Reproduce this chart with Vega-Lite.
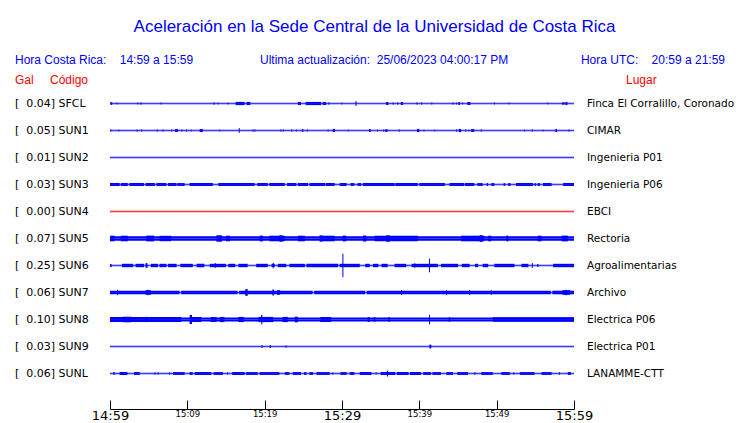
{
  "$schema": "https://vega.github.io/schema/vega-lite/v6.json",
  "padding": {"left": 15, "top": 18, "right": 5, "bottom": 0},
  "background": "white",
  "title": {"text": "Aceleración en la Sede Central de la Universidad de Costa Rica", "anchor": "middle", "frame": "bounds", "font": "Liberation Sans", "fontSize": 17, "fontWeight": "normal", "color": "#0000ff", "offset": 14},
  "config": {"view": {"stroke": null}, "axis": {"grid": false}},
  "spacing": 0,
  "datasets": {
    "estaciones": [
      {"c": "SFCL", "gal": 0.04, "lugar": "Finca El Corralillo, Coronado"},
      {"c": "SUN1", "gal": 0.05, "lugar": "CIMAR"},
      {"c": "SUN2", "gal": 0.01, "lugar": "Ingenieria P01"},
      {"c": "SUN3", "gal": 0.03, "lugar": "Ingenieria P06"},
      {"c": "SUN4", "gal": 0.00, "lugar": "EBCI"},
      {"c": "SUN5", "gal": 0.07, "lugar": "Rectoria"},
      {"c": "SUN6", "gal": 0.25, "lugar": "Agroalimentarias"},
      {"c": "SUN7", "gal": 0.06, "lugar": "Archivo"},
      {"c": "SUN8", "gal": 0.10, "lugar": "Electrica P06"},
      {"c": "SUN9", "gal": 0.03, "lugar": "Electrica P01"},
      {"c": "SUNL", "gal": 0.06, "lugar": "LANAMME-CTT"}
    ],
    "trazas": [
      {"c":"SFCL","t0":0,"t1":60,"h":0.85},
      {"c":"SFCL","t0":0.05,"t1":0.3,"h":1.3},
      {"c":"SFCL","t0":0.85,"t1":0.97,"h":1.1},
      {"c":"SFCL","t0":3.55,"t1":3.67,"h":1.1},
      {"c":"SFCL","t0":3.95,"t1":4.07,"h":1.3},
      {"c":"SFCL","t0":6.55,"t1":6.67,"h":1.1},
      {"c":"SFCL","t0":13.4,"t1":13.52,"h":1.3},
      {"c":"SFCL","t0":13.9,"t1":14.02,"h":1.1},
      {"c":"SFCL","t0":15.2,"t1":15.32,"h":1.1},
      {"c":"SFCL","t0":16.25,"t1":17.4,"h":1.6},
      {"c":"SFCL","t0":17.65,"t1":18.15,"h":1.6},
      {"c":"SFCL","t0":24.3,"t1":24.7,"h":1.6},
      {"c":"SFCL","t0":25.3,"t1":27.3,"h":1.6},
      {"c":"SFCL","t0":27.5,"t1":27.95,"h":1.5},
      {"c":"SFCL","t0":28.25,"t1":28.37,"h":1.3},
      {"c":"SFCL","t0":29.95,"t1":30.07,"h":1.1},
      {"c":"SFCL","t0":31.75,"t1":31.88,"h":2.6},
      {"c":"SFCL","t0":35.7,"t1":36.0,"h":1.5},
      {"c":"SFCL","t0":36.55,"t1":36.67,"h":1.3},
      {"c":"SFCL","t0":37.15,"t1":37.27,"h":1.3},
      {"c":"SFCL","t0":37.6,"t1":37.9,"h":1.4},
      {"c":"SFCL","t0":39.65,"t1":39.77,"h":1.3},
      {"c":"SFCL","t0":40.25,"t1":40.37,"h":1.3},
      {"c":"SFCL","t0":41.55,"t1":41.67,"h":1.1},
      {"c":"SFCL","t0":44.3,"t1":44.42,"h":1.3},
      {"c":"SFCL","t0":44.75,"t1":44.87,"h":1.1},
      {"c":"SFCL","t0":45.05,"t1":45.25,"h":1.5},
      {"c":"SFCL","t0":45.55,"t1":45.67,"h":1.1},
      {"c":"SFCL","t0":46.2,"t1":46.6,"h":1.5},
      {"c":"SFCL","t0":49.65,"t1":49.77,"h":1.1},
      {"c":"SFCL","t0":51.55,"t1":51.67,"h":1.1},
      {"c":"SFCL","t0":56.55,"t1":56.67,"h":1.1},
      {"c":"SFCL","t0":58.45,"t1":58.8,"h":1.1},
      {"c":"SFCL","t0":58.9,"t1":59.15,"h":1.6},

      {"c":"SUN1","t0":0,"t1":60,"h":0.85},
      {"c":"SUN1","t0":0.05,"t1":0.15,"h":1.3},
      {"c":"SUN1","t0":1.1,"t1":1.2,"h":1.1},
      {"c":"SUN1","t0":3.45,"t1":3.55,"h":1.3},
      {"c":"SUN1","t0":4.05,"t1":4.15,"h":1.3},
      {"c":"SUN1","t0":6.05,"t1":6.15,"h":1.3},
      {"c":"SUN1","t0":6.8,"t1":6.9,"h":1.3},
      {"c":"SUN1","t0":7.95,"t1":8.05,"h":1.3},
      {"c":"SUN1","t0":8.4,"t1":8.8,"h":1.4},
      {"c":"SUN1","t0":9.25,"t1":9.35,"h":1.3},
      {"c":"SUN1","t0":9.85,"t1":9.95,"h":1.3},
      {"c":"SUN1","t0":10.45,"t1":10.55,"h":1.1},
      {"c":"SUN1","t0":11.6,"t1":12.0,"h":1.5},
      {"c":"SUN1","t0":14.15,"t1":14.25,"h":1.1},
      {"c":"SUN1","t0":16.65,"t1":16.77,"h":2.5},
      {"c":"SUN1","t0":18.45,"t1":18.55,"h":1.3},
      {"c":"SUN1","t0":18.7,"t1":18.8,"h":1.3},
      {"c":"SUN1","t0":22.05,"t1":22.15,"h":1.3},
      {"c":"SUN1","t0":22.35,"t1":22.45,"h":1.3},
      {"c":"SUN1","t0":23.45,"t1":23.55,"h":1.3},
      {"c":"SUN1","t0":24.05,"t1":24.15,"h":1.1},
      {"c":"SUN1","t0":24.8,"t1":25.0,"h":1.3},
      {"c":"SUN1","t0":25.45,"t1":25.55,"h":1.3},
      {"c":"SUN1","t0":28.15,"t1":28.25,"h":1.3},
      {"c":"SUN1","t0":28.8,"t1":29.1,"h":1.6},
      {"c":"SUN1","t0":30.75,"t1":30.85,"h":1.1},
      {"c":"SUN1","t0":33.5,"t1":33.7,"h":1.5},
      {"c":"SUN1","t0":34.55,"t1":34.65,"h":1.1},
      {"c":"SUN1","t0":35.35,"t1":35.45,"h":1.3},
      {"c":"SUN1","t0":35.6,"t1":35.9,"h":1.3},
      {"c":"SUN1","t0":37.35,"t1":37.45,"h":1.3},
      {"c":"SUN1","t0":39.7,"t1":40.0,"h":1.6},
      {"c":"SUN1","t0":40.55,"t1":40.65,"h":1.1},
      {"c":"SUN1","t0":41.95,"t1":42.05,"h":1.1},
      {"c":"SUN1","t0":44.75,"t1":44.85,"h":1.3},
      {"c":"SUN1","t0":45.1,"t1":45.4,"h":1.6},
      {"c":"SUN1","t0":45.95,"t1":46.05,"h":1.3},
      {"c":"SUN1","t0":46.35,"t1":46.45,"h":1.1},
      {"c":"SUN1","t0":46.7,"t1":47.1,"h":1.4},
      {"c":"SUN1","t0":47.95,"t1":48.05,"h":1.3},
      {"c":"SUN1","t0":53.55,"t1":53.65,"h":1.1},
      {"c":"SUN1","t0":54.55,"t1":54.65,"h":1.3},
      {"c":"SUN1","t0":55.95,"t1":56.05,"h":1.1},
      {"c":"SUN1","t0":57.6,"t1":57.8,"h":1.4},
      {"c":"SUN1","t0":59.3,"t1":59.4,"h":1.3},

      {"c":"SUN2","t0":0,"t1":60,"h":0.85},

      {"c":"SUN3","t0":0,"t1":60,"h":0.85},
      {"c":"SUN3","t0":0,"t1":1.25,"h":1.5},
      {"c":"SUN3","t0":1.4,"t1":2.3,"h":1.5},
      {"c":"SUN3","t0":2.5,"t1":4.4,"h":1.5},
      {"c":"SUN3","t0":4.6,"t1":5.8,"h":1.5},
      {"c":"SUN3","t0":6.0,"t1":7.3,"h":1.5},
      {"c":"SUN3","t0":7.5,"t1":8.6,"h":1.5},
      {"c":"SUN3","t0":8.7,"t1":9.65,"h":1.4},
      {"c":"SUN3","t0":10.3,"t1":13.3,"h":1.5},
      {"c":"SUN3","t0":14.0,"t1":18.7,"h":1.5},
      {"c":"SUN3","t0":19.05,"t1":20.4,"h":1.5},
      {"c":"SUN3","t0":20.6,"t1":22.6,"h":1.5},
      {"c":"SUN3","t0":22.9,"t1":24.1,"h":1.5},
      {"c":"SUN3","t0":24.3,"t1":25.6,"h":1.5},
      {"c":"SUN3","t0":25.8,"t1":27.8,"h":1.5},
      {"c":"SUN3","t0":27.9,"t1":29.05,"h":1.5},
      {"c":"SUN3","t0":29.7,"t1":30.6,"h":1.5},
      {"c":"SUN3","t0":31.1,"t1":31.6,"h":1.4},
      {"c":"SUN3","t0":32.0,"t1":32.5,"h":1.4},
      {"c":"SUN3","t0":32.7,"t1":36.8,"h":1.5},
      {"c":"SUN3","t0":36.9,"t1":39.8,"h":1.5},
      {"c":"SUN3","t0":40.0,"t1":43.3,"h":1.5},
      {"c":"SUN3","t0":43.9,"t1":45.8,"h":1.5},
      {"c":"SUN3","t0":45.9,"t1":47.1,"h":1.5},
      {"c":"SUN3","t0":47.5,"t1":48.2,"h":1.4},
      {"c":"SUN3","t0":48.7,"t1":48.9,"h":1.4},
      {"c":"SUN3","t0":49.3,"t1":49.7,"h":1.4},
      {"c":"SUN3","t0":50.9,"t1":51.1,"h":1.4},
      {"c":"SUN3","t0":51.5,"t1":51.8,"h":1.4},
      {"c":"SUN3","t0":52.5,"t1":54.7,"h":1.5},
      {"c":"SUN3","t0":54.9,"t1":55.1,"h":1.4},
      {"c":"SUN3","t0":55.3,"t1":55.6,"h":1.4},
      {"c":"SUN3","t0":56.0,"t1":57.1,"h":1.5},
      {"c":"SUN3","t0":58.6,"t1":60,"h":1.5},

      {"c":"SUN4","t0":0,"t1":60,"h":0.85},

      {"c":"SUN5","t0":0,"t1":60,"h":2.3},
      {"c":"SUN5","t0":0,"t1":0.6,"h":2.8},
      {"c":"SUN5","t0":1.4,"t1":2.3,"h":2.8},
      {"c":"SUN5","t0":4.7,"t1":5.7,"h":2.9},
      {"c":"SUN5","t0":6.4,"t1":7.9,"h":2.7},
      {"c":"SUN5","t0":13.75,"t1":14.5,"h":3.2},
      {"c":"SUN5","t0":15.0,"t1":15.5,"h":2.8},
      {"c":"SUN5","t0":19.35,"t1":19.8,"h":2.9},
      {"c":"SUN5","t0":20.6,"t1":22.6,"h":2.8},
      {"c":"SUN5","t0":21.9,"t1":22.3,"h":3.2},
      {"c":"SUN5","t0":24.3,"t1":25.2,"h":2.8},
      {"c":"SUN5","t0":27.1,"t1":27.5,"h":3.2},
      {"c":"SUN5","t0":27.5,"t1":29.05,"h":2.8},
      {"c":"SUN5","t0":30.1,"t1":30.55,"h":2.9},
      {"c":"SUN5","t0":32.7,"t1":33.15,"h":2.9},
      {"c":"SUN5","t0":34.2,"t1":39.8,"h":2.7},
      {"c":"SUN5","t0":35.7,"t1":36.2,"h":3.2},
      {"c":"SUN5","t0":45.4,"t1":48.4,"h":2.8},
      {"c":"SUN5","t0":47.8,"t1":48.2,"h":3.3},
      {"c":"SUN5","t0":48.9,"t1":49.3,"h":2.8},
      {"c":"SUN5","t0":51.25,"t1":51.5,"h":2.9},
      {"c":"SUN5","t0":55.3,"t1":55.8,"h":2.8},
      {"c":"SUN5","t0":58.4,"t1":59.2,"h":2.9},

      {"c":"SUN6","t0":0,"t1":60,"h":0.85},
      {"c":"SUN6","t0":0.0,"t1":0.2,"h":1.4},
      {"c":"SUN6","t0":1.55,"t1":3.0,"h":1.7},
      {"c":"SUN6","t0":3.3,"t1":4.4,"h":1.7},
      {"c":"SUN6","t0":4.6,"t1":4.85,"h":2.4},
      {"c":"SUN6","t0":5.3,"t1":6.2,"h":1.7},
      {"c":"SUN6","t0":6.4,"t1":7.3,"h":1.7},
      {"c":"SUN6","t0":7.5,"t1":8.6,"h":1.7},
      {"c":"SUN6","t0":9.1,"t1":10.7,"h":1.7},
      {"c":"SUN6","t0":11.2,"t1":12.2,"h":1.7},
      {"c":"SUN6","t0":12.9,"t1":15.0,"h":1.7},
      {"c":"SUN6","t0":13.55,"t1":13.67,"h":2.4},
      {"c":"SUN6","t0":15.3,"t1":16.2,"h":1.7},
      {"c":"SUN6","t0":16.6,"t1":17.8,"h":1.7},
      {"c":"SUN6","t0":18.9,"t1":20.4,"h":1.7},
      {"c":"SUN6","t0":20.9,"t1":21.3,"h":1.7},
      {"c":"SUN6","t0":21.05,"t1":21.17,"h":2.8},
      {"c":"SUN6","t0":21.7,"t1":22.8,"h":1.7},
      {"c":"SUN6","t0":23.2,"t1":25.2,"h":1.7},
      {"c":"SUN6","t0":25.4,"t1":29.5,"h":1.7},
      {"c":"SUN6","t0":29.7,"t1":32.3,"h":1.7},
      {"c":"SUN6","t0":30.05,"t1":30.18,"h":11.7},
      {"c":"SUN6","t0":33.0,"t1":33.6,"h":1.7},
      {"c":"SUN6","t0":34.0,"t1":34.7,"h":1.7},
      {"c":"SUN6","t0":35.1,"t1":35.9,"h":1.7},
      {"c":"SUN6","t0":36.8,"t1":38.3,"h":1.7},
      {"c":"SUN6","t0":39.0,"t1":42.4,"h":1.7},
      {"c":"SUN6","t0":39.35,"t1":39.47,"h":2.3},
      {"c":"SUN6","t0":41.25,"t1":41.38,"h":6.7},
      {"c":"SUN6","t0":42.8,"t1":45.0,"h":1.7},
      {"c":"SUN6","t0":45.5,"t1":46.5,"h":1.7},
      {"c":"SUN6","t0":47.2,"t1":47.6,"h":1.7},
      {"c":"SUN6","t0":48.2,"t1":48.9,"h":1.7},
      {"c":"SUN6","t0":49.7,"t1":52.3,"h":1.7},
      {"c":"SUN6","t0":53.2,"t1":54.1,"h":1.7},
      {"c":"SUN6","t0":54.55,"t1":54.67,"h":2.4},
      {"c":"SUN6","t0":55.25,"t1":55.4,"h":1.4},
      {"c":"SUN6","t0":57.3,"t1":60,"h":1.7},

      {"c":"SUN7","t0":0,"t1":60,"h":0.85},
      {"c":"SUN7","t0":0,"t1":9.0,"h":1.8},
      {"c":"SUN7","t0":9.2,"t1":16.5,"h":1.8},
      {"c":"SUN7","t0":16.7,"t1":26.2,"h":1.8},
      {"c":"SUN7","t0":26.4,"t1":33.0,"h":1.8},
      {"c":"SUN7","t0":33.2,"t1":57.0,"h":1.8},
      {"c":"SUN7","t0":57.2,"t1":60,"h":1.8},
      {"c":"SUN7","t0":0.9,"t1":1.02,"h":2.8},
      {"c":"SUN7","t0":4.6,"t1":5.3,"h":2.3},
      {"c":"SUN7","t0":4.85,"t1":4.97,"h":2.8},
      {"c":"SUN7","t0":17.5,"t1":17.8,"h":3.4},
      {"c":"SUN7","t0":21.0,"t1":21.2,"h":3},
      {"c":"SUN7","t0":21.6,"t1":22.0,"h":2.3},
      {"c":"SUN7","t0":37.65,"t1":37.77,"h":2.5},
      {"c":"SUN7","t0":43.45,"t1":43.57,"h":2.3},
      {"c":"SUN7","t0":46.45,"t1":46.57,"h":2.6},
      {"c":"SUN7","t0":49.25,"t1":49.37,"h":2.3},
      {"c":"SUN7","t0":58.5,"t1":59.5,"h":2.3},
      {"c":"SUN7","t0":58.9,"t1":59.1,"h":2.7},

      {"c":"SUN8","t0":0,"t1":60,"h":2.0},
      {"c":"SUN8","t0":0,"t1":9.2,"h":2.4},
      {"c":"SUN8","t0":1.7,"t1":2.75,"h":2.8},
      {"c":"SUN8","t0":4.5,"t1":4.9,"h":2.6},
      {"c":"SUN8","t0":10.3,"t1":10.6,"h":4.5},
      {"c":"SUN8","t0":10.6,"t1":11.8,"h":2.5},
      {"c":"SUN8","t0":13.0,"t1":13.8,"h":2.4},
      {"c":"SUN8","t0":14.2,"t1":14.8,"h":2.6},
      {"c":"SUN8","t0":16.6,"t1":17.3,"h":2.6},
      {"c":"SUN8","t0":19.2,"t1":21.1,"h":2.6},
      {"c":"SUN8","t0":19.55,"t1":19.7,"h":4.8},
      {"c":"SUN8","t0":22.3,"t1":23.0,"h":2.6},
      {"c":"SUN8","t0":23.9,"t1":24.3,"h":2.8},
      {"c":"SUN8","t0":27.2,"t1":28.6,"h":2.5},
      {"c":"SUN8","t0":33.3,"t1":33.6,"h":2.4},
      {"c":"SUN8","t0":34.1,"t1":34.3,"h":2.4},
      {"c":"SUN8","t0":36.0,"t1":36.2,"h":2.2},
      {"c":"SUN8","t0":41.25,"t1":41.38,"h":4.8},
      {"c":"SUN8","t0":43.8,"t1":44.0,"h":2.2},
      {"c":"SUN8","t0":49.5,"t1":60,"h":2.2},

      {"c":"SUN9","t0":0,"t1":60,"h":0.85},
      {"c":"SUN9","t0":19.6,"t1":19.72,"h":1.5},
      {"c":"SUN9","t0":20.65,"t1":20.8,"h":1.5},
      {"c":"SUN9","t0":22.7,"t1":22.82,"h":1.3},
      {"c":"SUN9","t0":41.3,"t1":41.55,"h":1.9},

      {"c":"SUNL","t0":0,"t1":60,"h":0.85},
      {"c":"SUNL","t0":0.45,"t1":0.6,"h":1.4},
      {"c":"SUNL","t0":1.25,"t1":2.25,"h":1.4},
      {"c":"SUNL","t0":3.1,"t1":3.85,"h":1.4},
      {"c":"SUNL","t0":5.75,"t1":5.87,"h":1.3},
      {"c":"SUNL","t0":6.15,"t1":6.27,"h":1.3},
      {"c":"SUNL","t0":7.65,"t1":7.77,"h":1.3},
      {"c":"SUNL","t0":8.15,"t1":9.65,"h":1.4},
      {"c":"SUNL","t0":10.3,"t1":10.7,"h":1.4},
      {"c":"SUNL","t0":10.95,"t1":13.1,"h":1.4},
      {"c":"SUNL","t0":13.4,"t1":14.6,"h":1.4},
      {"c":"SUNL","t0":15.15,"t1":15.27,"h":1.3},
      {"c":"SUNL","t0":15.8,"t1":17.4,"h":1.4},
      {"c":"SUNL","t0":17.6,"t1":19.1,"h":1.4},
      {"c":"SUNL","t0":19.35,"t1":21.9,"h":1.4},
      {"c":"SUNL","t0":22.6,"t1":23.2,"h":1.4},
      {"c":"SUNL","t0":23.65,"t1":24.7,"h":1.4},
      {"c":"SUNL","t0":25.1,"t1":25.4,"h":1.4},
      {"c":"SUNL","t0":25.8,"t1":26.25,"h":1.4},
      {"c":"SUNL","t0":26.7,"t1":28.4,"h":1.4},
      {"c":"SUNL","t0":28.75,"t1":28.87,"h":1.3},
      {"c":"SUNL","t0":29.8,"t1":30.6,"h":1.4},
      {"c":"SUNL","t0":31.0,"t1":31.6,"h":1.4},
      {"c":"SUNL","t0":32.3,"t1":33.8,"h":1.4},
      {"c":"SUNL","t0":34.35,"t1":34.47,"h":1.3},
      {"c":"SUNL","t0":35.0,"t1":36.9,"h":1.5},
      {"c":"SUNL","t0":35.8,"t1":35.95,"h":3},
      {"c":"SUNL","t0":37.1,"t1":38.6,"h":1.5},
      {"c":"SUNL","t0":38.8,"t1":40.2,"h":1.5},
      {"c":"SUNL","t0":40.5,"t1":41.5,"h":1.4},
      {"c":"SUNL","t0":41.7,"t1":42.8,"h":1.4},
      {"c":"SUNL","t0":43.5,"t1":44.35,"h":1.4},
      {"c":"SUNL","t0":44.9,"t1":46.3,"h":1.4},
      {"c":"SUNL","t0":47.1,"t1":47.25,"h":1.3},
      {"c":"SUNL","t0":48.0,"t1":49.5,"h":1.4},
      {"c":"SUNL","t0":50.6,"t1":51.7,"h":1.4},
      {"c":"SUNL","t0":52.15,"t1":52.27,"h":1.3},
      {"c":"SUNL","t0":53.0,"t1":54.9,"h":1.4},
      {"c":"SUNL","t0":55.8,"t1":57.1,"h":1.4},
      {"c":"SUNL","t0":58.05,"t1":58.17,"h":1.3},
      {"c":"SUNL","t0":59.2,"t1":59.6,"h":1.4}
    ]
  },
  "vconcat": [
    {
      "data": {"values": [{}]},
      "width": 464,
      "height": 20,
      "encoding": {"x": {"datum": 0, "type": "quantitative", "scale": {"domain": [0, 60]}, "axis": null}},
      "layer": [
        {"mark": {"type": "text", "align": "left", "dx": -95, "font": "Liberation Sans", "fontSize": 12, "color": "#0000ff", "text": "Hora Costa Rica:\u00a0\u00a0\u00a0 14:59 a 15:59"}},
        {"mark": {"type": "text", "align": "left", "dx": 150, "font": "Liberation Sans", "fontSize": 12, "color": "#0000ff", "text": "Ultima actualización:\u00a0 25/06/2023 04:00:17 PM"}},
        {"mark": {"type": "text", "align": "right", "dx": 615, "font": "Liberation Sans", "fontSize": 12, "color": "#0000ff", "text": "Hora UTC:\u00a0\u00a0\u00a0 20:59 a 21:59"}}
      ]
    },
    {
      "data": {"values": [{}]},
      "width": 464,
      "height": 20,
      "encoding": {"x": {"datum": 0, "type": "quantitative", "scale": {"domain": [0, 60]}, "axis": null}},
      "layer": [
        {"mark": {"type": "text", "align": "left", "dx": -95, "font": "Liberation Sans", "fontSize": 12, "color": "#ff0000", "text": "Gal"}},
        {"mark": {"type": "text", "align": "left", "dx": -60, "font": "Liberation Sans", "fontSize": 12, "color": "#ff0000", "text": "Código"}},
        {"mark": {"type": "text", "align": "left", "dx": 516, "font": "Liberation Sans", "fontSize": 12, "color": "#ff0000", "text": "Lugar"}}
      ]
    },
    {
      "data": {"name": "trazas"},
      "transform": [{"lookup": "c", "from": {"data": {"name": "estaciones"}, "key": "c", "fields": ["gal", "lugar"]}}],
      "facet": {"row": {"field": "c", "type": "nominal", "sort": ["SFCL", "SUN1", "SUN2", "SUN3", "SUN4", "SUN5", "SUN6", "SUN7", "SUN8", "SUN9", "SUNL"], "header": null, "title": null}},
      "spacing": {"row": 0},
      "spec": {
        "width": 464,
        "height": 27,
        "layer": [
          {
            "mark": {"type": "rect"},
            "encoding": {
              "x": {"field": "t0", "type": "quantitative", "scale": {"domain": [0, 60], "nice": false, "zero": false},
                "axis": {"values": [0, 5, 10, 15, 20, 25, 30, 35, 40, 45, 50, 55, 60],
                  "labelExpr": "datum.value % 10 === 0 ? timeFormat(datetime(2023, 5, 25, 14, 59 + datum.value), '%H:%M') : ''",
                  "labelFontSize": {"condition": {"test": "datum.value % 30 === 0", "value": 13}, "value": 8.5},
                  "labelFont": "DejaVu Sans", "labelColor": "black", "tickSize": -9, "tickColor": "black", "domainColor": "black",
                  "labelFlush": false, "labelOverlap": false, "labelBound": false, "labelPadding": 9, "offset": 22, "title": null, "grid": false}},
              "x2": {"field": "t1"},
              "y": {"field": "h", "type": "quantitative", "scale": {"domain": [-13.5, 13.5]}, "axis": null},
              "y2": {"datum": 0},
              "color": {"condition": {"test": "datum.gal === 0", "value": "#ff0000"}, "value": "#0000ff"}
            }
          },
          {
            "mark": {"type": "rect"},
            "encoding": {
              "x": {"field": "t0", "type": "quantitative"},
              "x2": {"field": "t1"},
              "y": {"field": "h", "type": "quantitative", "scale": {"domain": [-13.5, 13.5], "reverse": true}, "axis": null},
              "y2": {"datum": 0},
              "color": {"condition": {"test": "datum.gal === 0", "value": "#ff0000"}, "value": "#0000ff"}
            }
          },
          {
            "transform": [{"aggregate": [{"op": "count", "as": "n"}], "groupby": ["c", "gal", "lugar"]}],
            "mark": {"type": "text", "align": "left", "baseline": "middle", "dx": -95, "font": "DejaVu Sans", "fontSize": 11, "color": "black",
              "text": {"expr": "'[\u00a0\u00a0' + format(datum.gal, '.2f') + '] ' + datum.c"}},
            "encoding": {"x": {"datum": 0, "type": "quantitative"}}
          },
          {
            "transform": [{"aggregate": [{"op": "count", "as": "n"}], "groupby": ["c", "gal", "lugar"]}],
            "mark": {"type": "text", "align": "left", "baseline": "middle", "dx": 13, "font": "DejaVu Sans", "fontSize": 10.5, "color": "black"},
            "encoding": {"x": {"datum": 60, "type": "quantitative"}, "text": {"field": "lugar"}}
          }
        ],
        "resolve": {"scale": {"y": "independent"}}
      }
    }
  ]
}
